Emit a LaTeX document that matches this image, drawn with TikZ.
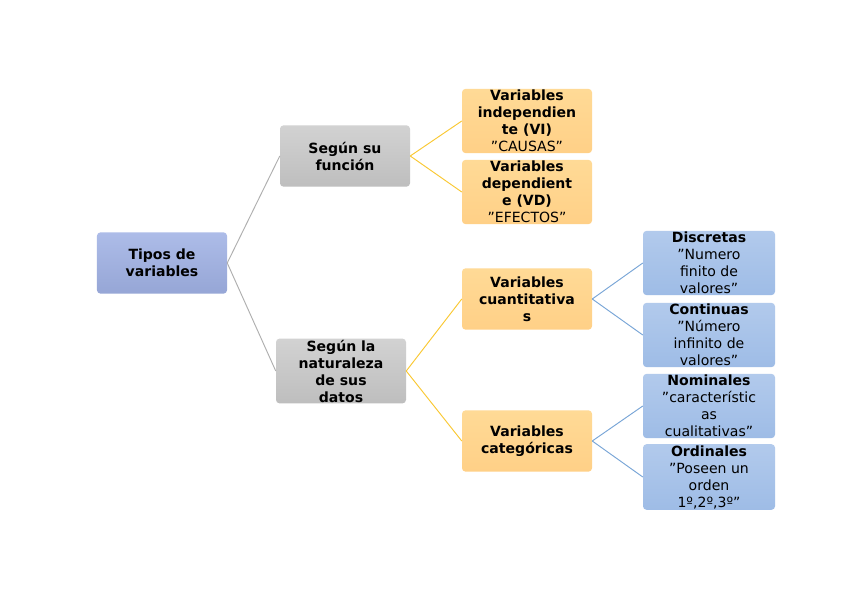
\documentclass[tikz,border=0pt]{standalone}
\usepackage{fontspec}
\setmainfont{DejaVu Sans}
\begin{document}
\begin{tikzpicture}[x=0.03cm,y=-0.03cm,
 box/.style={rounded corners=3pt,minimum width=3.9cm,minimum height=1.84cm,align=center,inner sep=1pt,font=\fontsize{12}{14.5}\selectfont,text=black},
 blue/.style={box,top color=blue!30!cyan!15!white!85!blue,bottom color=blue!45!white!80!gray,top color={rgb,255:red,173;green,188;blue,232},bottom color={rgb,255:red,150;green,166;blue,214}},
 gray/.style={box,top color={rgb,255:red,210;green,210;blue,210},bottom color={rgb,255:red,190;green,190;blue,190}},
 orange/.style={box,top color={rgb,255:red,255;green,218;blue,150},bottom color={rgb,255:red,255;green,208;blue,135}},
 lblue/.style={box,minimum width=3.96cm,top color={rgb,255:red,178;green,202;blue,236},bottom color={rgb,255:red,158;green,188;blue,230}},
 gl/.style={draw={rgb,255:red,175;green,175;blue,175},line width=0.8pt},
 ol/.style={draw={rgb,255:red,250;green,200;blue,50},line width=0.8pt},
 bl/.style={draw={rgb,255:red,120;green,165;blue,215},line width=0.8pt}]
\useasboundingbox (0,0) rectangle (848,599);
\fill[white] (0,0) rectangle (848,599);
\node[blue] (t) at (162,263) {\textbf{Tipos de}\\\textbf{variables}};
\node[gray] (f) at (345,156) {\textbf{Según su}\\\textbf{función}};
\node[gray] (n) at (341,371) {\textbf{Según la}\\\textbf{naturaleza}\\\textbf{de sus}\\\textbf{datos}};
\node[orange] (vi) at (527,121) {\textbf{Variables}\\\textbf{independien}\\\textbf{te (VI)}\\"CAUSAS"};
\node[orange] (vd) at (527,192) {\textbf{Variables}\\\textbf{dependient}\\\textbf{e (VD)}\\"EFECTOS"};
\node[orange] (cu) at (527,299) {\textbf{Variables}\\\textbf{cuantitativa}\\\textbf{s}};
\node[orange] (ca) at (527,441) {\textbf{Variables}\\\textbf{categóricas}};
\node[lblue] (d) at (709,263) {\textbf{Discretas}\\"Numero\\finito de\\valores"};
\node[lblue] (c) at (709,335) {\textbf{Continuas}\\"Número\\infinito de\\valores"};
\node[lblue] (no) at (709,406) {\textbf{Nominales}\\"característic\\as\\cualitativas"};
\node[lblue] (o) at (709,477) {\textbf{Ordinales}\\"Poseen un\\orden\\1º,2º,3º"};
\draw[gl] (t.east) -- (f.west);
\draw[gl] (t.east) -- (n.west);
\draw[ol] (f.east) -- (vi.west);
\draw[ol] (f.east) -- (vd.west);
\draw[ol] (n.east) -- (cu.west);
\draw[ol] (n.east) -- (ca.west);
\draw[bl] (cu.east) -- (d.west);
\draw[bl] (cu.east) -- (c.west);
\draw[bl] (ca.east) -- (no.west);
\draw[bl] (ca.east) -- (o.west);
\end{tikzpicture}
\end{document}
